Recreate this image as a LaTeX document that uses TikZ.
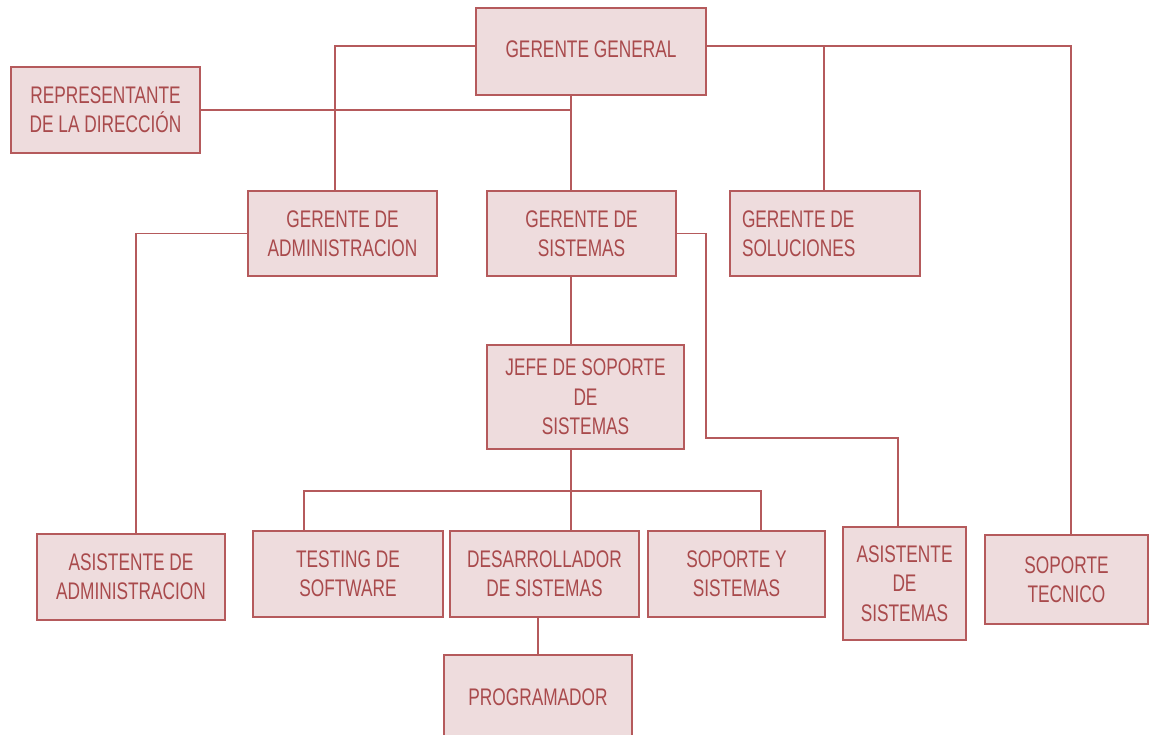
\documentclass[tikz,border=0pt]{standalone}
\usepackage{fontspec}
\setmainfont[FakeStretch=0.72]{Liberation Sans}
\definecolor{borde}{HTML}{B55A5C}
\definecolor{relleno}{HTML}{EEDCDD}
\definecolor{texto}{HTML}{A94A4C}

\begin{document}
\begin{tikzpicture}[x=0.75pt,y=-0.75pt,
    cargo/.style={draw=borde,fill=relleno,line width=1.4pt,text=texto,
      align=center,inner sep=0pt,font=\fontsize{18}{22}\selectfont},
    linea/.style={draw=borde,line width=1.4pt}]
      \useasboundingbox (0,0) rectangle (1149,735) ;
      % cajas
      \node[cargo,minimum width=172.5pt,minimum height=65.25pt] %
      (gg) at (591,51.5) {\raisebox{4pt}{GERENTE GENERAL}} ;
      \node[cargo,minimum width=141.75pt,minimum height=64.5pt] %
      (rep) at (105.5,110) {REPRESENTANTE\\DE LA DIRECCIÓN} ;
      \node[cargo,minimum width=141.75pt,minimum height=63.75pt] %
      (ga) at (342.5,233.5) {GERENTE DE\\ADMINISTRACION} ;
      \node[cargo,minimum width=141.75pt,minimum height=63.75pt] %
      (gs) at (581.5,233.5) {GERENTE DE\\SISTEMAS} ;
      \node[cargo,minimum width=142.5pt,minimum height=63.75pt,
        text width=124.5pt,align=flush left] %
      (gsol) at (825,233.5) {GERENTE DE\\SOLUCIONES} ;
      \node[cargo,minimum width=147.75pt,minimum height=78pt] %
      (jefe) at (585.5,397) {JEFE DE SOPORTE\\DE\\SISTEMAS} ;
      \node[cargo,minimum width=141pt,minimum height=64.5pt] %
      (aa) at (131,577) {ASISTENTE DE\\ADMINISTRACION} ;
      \node[cargo,minimum width=142.5pt,minimum height=64.5pt] %
      (ts) at (348,574) {TESTING DE\\SOFTWARE} ;
      \node[cargo,minimum width=141.75pt,minimum height=64.5pt] %
      (ds) at (544.5,574) {DESARROLLADOR\\DE SISTEMAS} ;
      \node[cargo,minimum width=132.75pt,minimum height=64.5pt] %
      (sys) at (736.5,574) {SOPORTE Y\\SISTEMAS} ;
      \node[cargo,minimum width=92.25pt,minimum height=84.75pt] %
      (as) at (904.5,583.5) {ASISTENTE\\DE\\SISTEMAS} ;
      \node[cargo,minimum width=122.25pt,minimum height=66.75pt] %
      (st) at (1066.5,579.5) {SOPORTE\\TECNICO} ;
      \node[cargo,minimum width=141pt,minimum height=63.75pt] %
      (prog) at (538,697.5) {PROGRAMADOR} ;
      % puntos de quiebre
      \coordinate (tronco) at (571,0) ;
      \coordinate (cima) at (0,46) ;
      \coordinate (xa) at (335,0) ;
      \coordinate (xaa) at (136,0) ;
      \coordinate (xsol) at (824,0) ;
      \coordinate (xt) at (1071,0) ;
      \coordinate (codo) at (706,438) ;
      \coordinate (xas) at (898,0) ;
      \coordinate (barra) at (0,491) ;
      \coordinate (xts) at (304,0) ;
      \coordinate (xsy) at (761,0) ;
      % lineas
      \draw[linea] (gg.west |- cima) -| (xa |- ga.north) ;
      \draw[linea] (gg.east |- cima) -| (xt |- st.north) ;
      \draw[linea] (xsol |- cima) -- (xsol |- gsol.north) ;
      \draw[linea] (tronco |- gg.south) -- (tronco |- gs.north) ;
      \draw[linea] (rep.east) -- (rep.east -| tronco) ;
      \draw[linea] (tronco |- gs.south) -- (tronco |- jefe.north) ;
      \draw[linea] (gs.east) -| (codo) -| (xas |- as.north) ;
      \draw[linea] (ga.west) -| (xaa |- aa.north) ;
      \draw[linea] (tronco |- jefe.south) -- (tronco |- ds.north) ;
      \draw[linea] (xts |- ts.north) -- (xts |- barra) -- (xsy |- barra)
        -- (xsy |- sys.north) ;
      \draw[linea] (ds.south -| prog.north) -- (prog.north) ;
\end{tikzpicture}
\end{document}
